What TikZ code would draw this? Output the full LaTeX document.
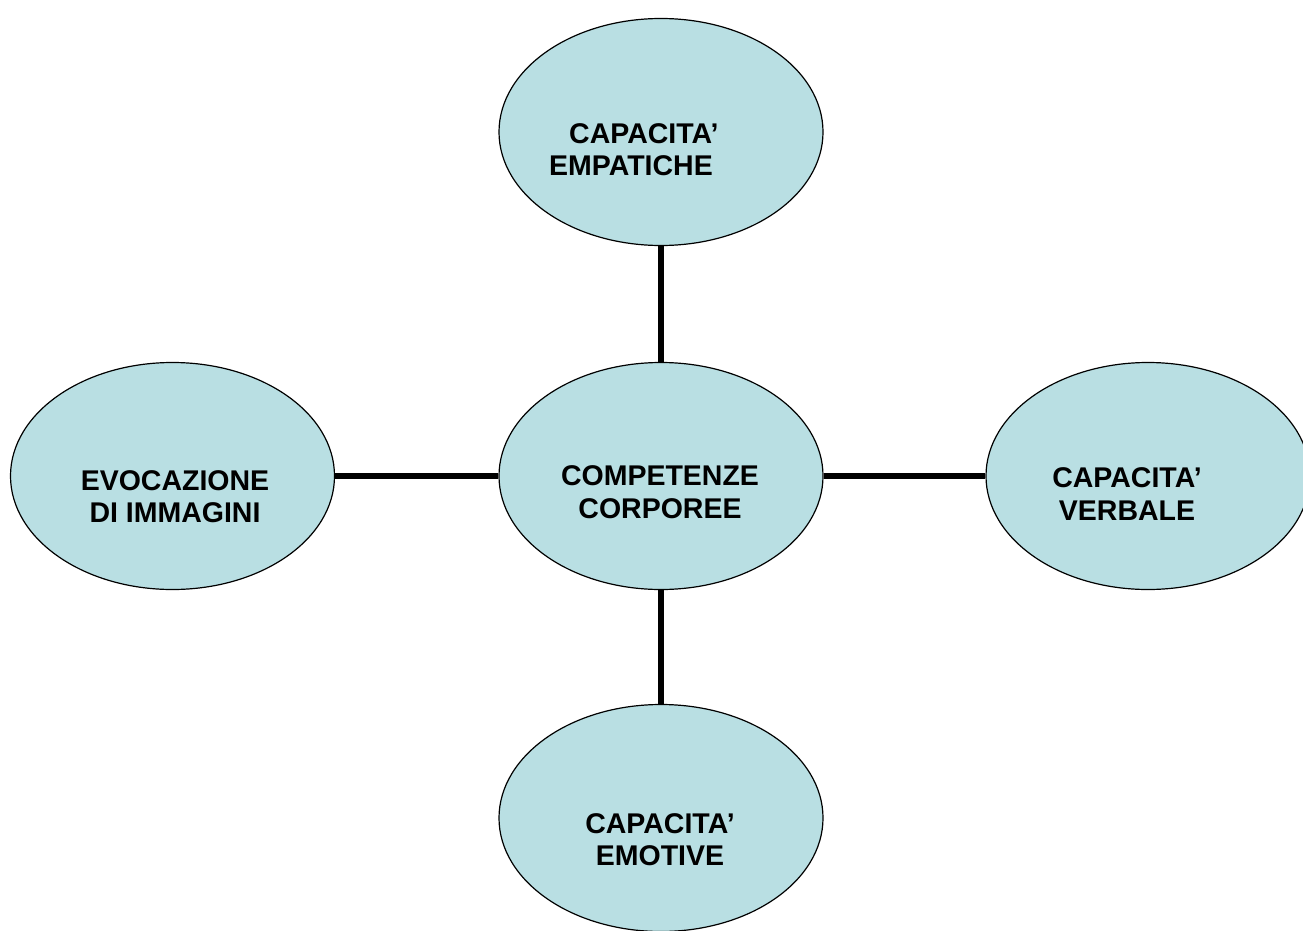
\documentclass[tikz,border=0pt]{standalone}
\usepackage{fontspec}
\setmainfont{Liberation Sans}
\definecolor{bubble}{HTML}{B9DFE3}
\tikzset{
  bubble/.style={ellipse, draw=black, line width=1.2pt, fill=bubble, minimum width=324pt, minimum height=227pt, inner sep=0pt},
  link/.style={line width=5.5pt, draw=black},
  lbl/.style={inner sep=0pt, anchor=base, font=\fontsize{28.5}{32.5}\selectfont\bfseries}
}
\usetikzlibrary{shapes.geometric}
\begin{document}
\begin{tikzpicture}[x=1pt,y=-1pt]
\useasboundingbox (0,0) rectangle (1303,931);
\clip (0,0) rectangle (1303,931);
\node[bubble] (top) at (661,132) {};
\node[bubble] (mid) at (661,476) {};
\node[bubble] (left) at (172.5,476) {};
\node[bubble] (right) at (1148,476) {};
\node[bubble] (bot) at (661,818) {};
\draw[link] (top) -- (mid);
\draw[link] (mid) -- (bot);
\draw[link] (left) -- (mid);
\draw[link] (mid) -- (right);
\node[lbl, anchor=base west] (ttop) at (549,143) {\begin{tabular}[t]{@{}l@{}}\hspace*{20pt}CAPACITA’\\EMPATICHE\end{tabular}};
\node[lbl] (tmid) at (660,485.7) {\begin{tabular}[t]{@{}c@{}}COMPETENZE\\CORPOREE\end{tabular}};
\node[lbl] (tleft) at (175,490) {\begin{tabular}[t]{@{}c@{}}EVOCAZIONE\\DI IMMAGINI\end{tabular}};
\node[lbl] (tright) at (1127,487.7) {\begin{tabular}[t]{@{}c@{}}CAPACITA’\\VERBALE\end{tabular}};
\node[lbl] (tbot) at (660,833.3) {\begin{tabular}[t]{@{}c@{}}CAPACITA’\\EMOTIVE\end{tabular}};
\end{tikzpicture}
\end{document}
